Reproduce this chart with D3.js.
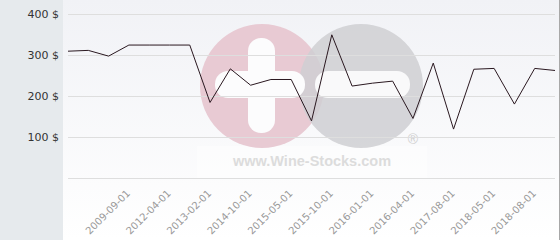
<!DOCTYPE html>
<html>
<head>
<meta charset="utf-8">
<script src="https://cdn.jsdelivr.net/npm/d3@7"></script>
<style>
  body { margin: 0; background: #fff; }
  svg { display: block; font-family: "DejaVu Sans", sans-serif; }
</style>
</head>
<body>
<svg width="560" height="240"></svg>
<script>
// price per point (25 points, oldest first)
const prices = [310, 312, 298, 325, 325, 325, 325, 185, 267, 227, 241, 241,
                140, 350, 225, 232, 237, 146, 281, 120, 266, 268, 181, 268, 263];
// labelled points: index into prices and label text
const labelIndex = [3, 5, 7, 9, 11, 13, 15, 17, 19, 21, 23];
const tickLabels = ["2009-09-01", "2012-04-01", "2013-02-01", "2014-10-01", "2015-05-01",
                    "2015-10-01", "2016-01-01", "2016-04-01", "2017-08-01", "2018-05-01", "2018-08-01"];
const yTicks = [100, 200, 300, 400];

const svg = d3.select("svg");
const plot = { left: 68, right: 555, top: 14.3, bottom: 178.3 };

// backgrounds
const defs = svg.append("defs");
const grad = defs.append("linearGradient")
    .attr("id", "bg").attr("x1", 0).attr("y1", 0).attr("x2", 0).attr("y2", 1);
grad.append("stop").attr("offset", "0%").attr("stop-color", "#f1f2f6");
grad.append("stop").attr("offset", "100%").attr("stop-color", "#ffffff");

svg.append("rect").attr("x", 0).attr("y", 0).attr("width", 63).attr("height", 240)
    .attr("fill", "#e6eaed");
svg.append("rect").attr("x", 63).attr("y", 0).attr("width", 497).attr("height", 240)
    .attr("fill", "url(#bg)");
svg.append("line").attr("x1", 559.5).attr("x2", 559.5).attr("y1", 0).attr("y2", 240)
    .attr("stroke", "#a8a8a8");

const x = d3.scaleLinear().domain([0, prices.length - 1]).range([plot.left, plot.right]);
const y = d3.scaleLinear().domain([0, 400]).range([plot.bottom, plot.top]);

// watermark
const wm = svg.append("g");
wm.append("rect").attr("x", 197).attr("y", 146).attr("width", 230).attr("height", 32)
    .attr("fill", "#ffffff").attr("opacity", 0.45);
wm.append("circle").attr("cx", 262).attr("cy", 86).attr("r", 62).attr("fill", "#e8cad3");
wm.append("circle").attr("cx", 361).attr("cy", 86).attr("r", 62).attr("fill", "#cfcfd2")
    .attr("opacity", 0.85);
wm.append("rect").attr("x", 248).attr("y", 38).attr("width", 27).attr("height", 95)
    .attr("rx", 13).attr("fill", "#fcfcfd");
wm.append("rect").attr("x", 215).attr("y", 71).attr("width", 90).attr("height", 27)
    .attr("rx", 13).attr("fill", "#fcfcfd");
wm.append("rect").attr("x", 315).attr("y", 71).attr("width", 95).attr("height", 27)
    .attr("rx", 13).attr("fill", "#f9f9fa");
wm.append("text").attr("x", 312).attr("y", 166).attr("text-anchor", "middle")
    .attr("font-size", 14.5).attr("font-weight", "bold").attr("fill", "#dcdcdc")
    .attr("font-family", "Liberation Sans, Arial, sans-serif")
    .text("www.Wine-Stocks.com");
wm.append("text").attr("x", 413).attr("y", 144).attr("text-anchor", "middle")
    .attr("font-size", 14).attr("fill", "#cfcfcf")
    .attr("font-family", "Liberation Sans, Arial, sans-serif")
    .text("®");

// grid
svg.append("g").selectAll("line")
    .data([0].concat(yTicks))
    .enter().append("line")
    .attr("x1", plot.left).attr("x2", plot.right)
    .attr("y1", d => Math.round(y(d)) + 0.5).attr("y2", d => Math.round(y(d)) + 0.5)
    .attr("stroke", "#dedede");

// y labels
svg.append("g").selectAll("text")
    .data(yTicks)
    .enter().append("text")
    .attr("x", 59).attr("y", d => y(d) + 4)
    .attr("text-anchor", "end")
    .attr("font-size", 11).attr("fill", "#333")
    .text(d => d + " $");

// x labels
svg.append("g").selectAll("text")
    .data(labelIndex)
    .enter().append("text")
    .attr("transform", d => `translate(${x(d) + 2},${194}) rotate(-45)`)
    .attr("text-anchor", "end")
    .attr("font-size", 10).attr("fill", "#999")
    .text((d, i) => tickLabels[i]);

// price line
const line = d3.line().x((d, i) => x(i)).y(d => y(d));
svg.append("path")
    .datum(prices)
    .attr("d", line)
    .attr("fill", "none")
    .attr("stroke", "#2a1820")
    .attr("stroke-width", 1);
</script>
</body>
</html>
